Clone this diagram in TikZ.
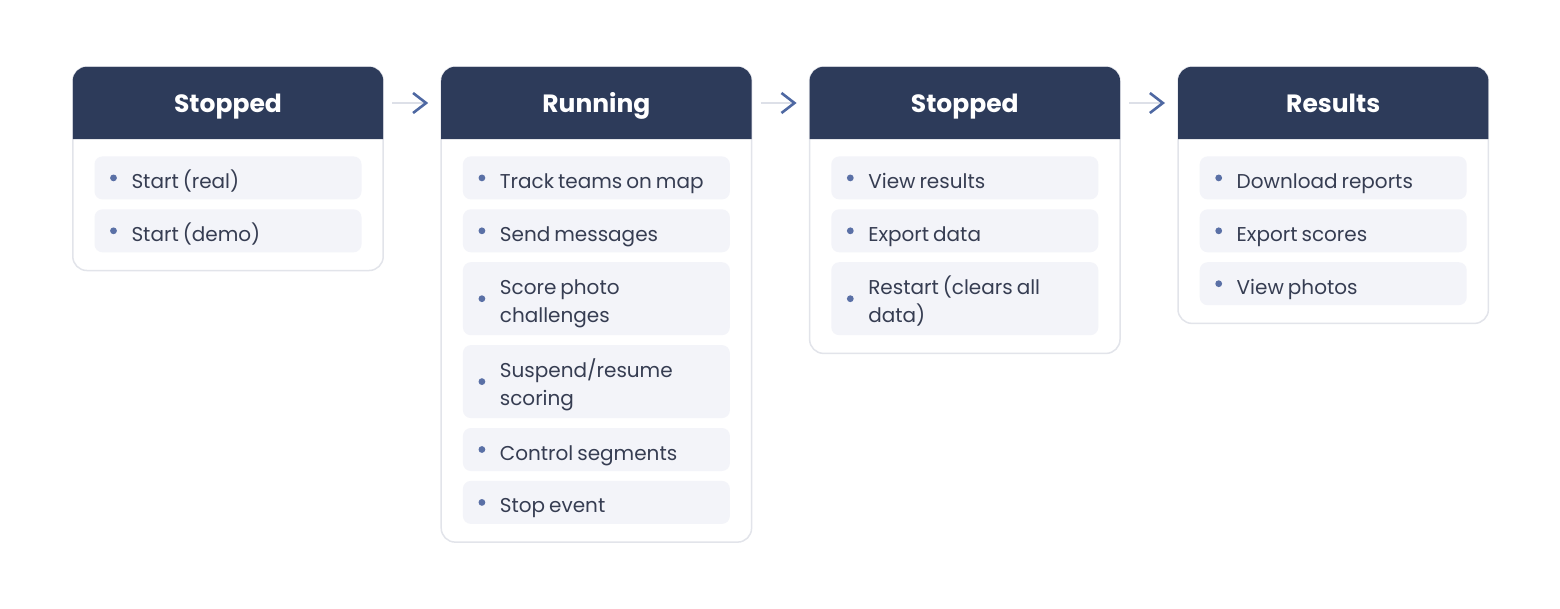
\documentclass[tikz,border=0pt]{standalone}
\usepackage{fontspec}
\setmainfont{Poppins}
\usetikzlibrary{positioning,arrows.meta,fit,backgrounds}

\definecolor{navy}{HTML}{2D3B5A}
\definecolor{edge}{HTML}{E2E4EA}
\definecolor{tint}{HTML}{F3F4F9}
\definecolor{dotblue}{HTML}{5A70A6}
\definecolor{ink}{HTML}{363D52}
\definecolor{lineg}{HTML}{DDE0E8}
\definecolor{tipblue}{HTML}{4E68A2}

\begin{document}
\begin{tikzpicture}[
  x=1pt, y=-1pt,
  node distance=9.5pt and 58pt,
  head/.style={rectangle, inner sep=0pt, minimum width=310pt, minimum height=72pt, text height=18pt, text depth=0pt, text=white, font=\bfseries\fontsize{25}{28}\selectfont},
  item/.style={rectangle, rounded corners=8pt, fill=tint, text=ink, inner xsep=8pt, inner ysep=6pt, text width=251pt, text height=26pt, text depth=5pt, font=\fontsize{20}{28}\selectfont,
    execute at begin node={\raggedright\leftskip=29pt\spaceskip=0.2em plus 0.1em\relax},
    path picture={\fill[dotblue] ([xshift=19pt]path picture bounding box.west) circle (3.4pt);}},
  twoline/.style={text depth=35pt},
  frame/.style={rectangle, rounded corners=14pt, draw=edge, line width=1.5pt, fill=white, inner sep=0pt},
  link/.style={draw=lineg, line width=2pt, shorten <=9pt, shorten >=13pt, -{Straight Barb[length=13pt, width=20pt, line width=2.6pt, color=tipblue]}}
]
\useasboundingbox (0,0) rectangle (1560,608);

% Headers
\node[head] (hd1) at (228,103) {Stopped};
\node[head, right=of hd1] (hd2) {Running};
\node[head, right=of hd2] (hd3) {Stopped};
\node[head, right=of hd3] (hd4) {Results};

% Stopped
\node[item, below=17pt of hd1] (i11) {Start (real)};
\node[item, below=of i11] (i12) {Start (demo)};

% Running
\node[item, below=17pt of hd2] (i21) {Track teams on map};
\node[item, below=of i21] (i22) {Send messages};
\node[item, twoline, below=of i22] (i23) {Score photo challenges};
\node[item, twoline, below=of i23] (i24) {Suspend/resume scoring};
\node[item, below=of i24] (i25) {Control segments};
\node[item, below=of i25] (i26) {Stop event};

% Stopped again
\node[item, below=17pt of hd3] (i31) {View results};
\node[item, below=of i31] (i32) {Export data};
\node[item, twoline, below=of i32] (i33) {Restart (clears all data)};

% Results
\node[item, below=17pt of hd4] (i41) {Download reports};
\node[item, below=of i41] (i42) {Export scores};
\node[item, below=of i42] (i43) {View photos};

% Cards and header bars
\begin{pgfonlayer}{background}
  \foreach \c/\l in {1/i12, 2/i26, 3/i33, 4/i43} {
    \node[frame, fit={(hd\c) ([yshift=-18pt]\l.south)}] (box\c) {};
    \fill[navy] (hd\c.south west) [rounded corners=14pt] -- (hd\c.north west) -- (hd\c.north east) [sharp corners] -- (hd\c.south east) -- cycle;
  }
\end{pgfonlayer}

% Transitions
\draw[link] (hd1) -- (hd2);
\draw[link] (hd2) -- (hd3);
\draw[link] (hd3) -- (hd4);

\end{tikzpicture}
\end{document}
